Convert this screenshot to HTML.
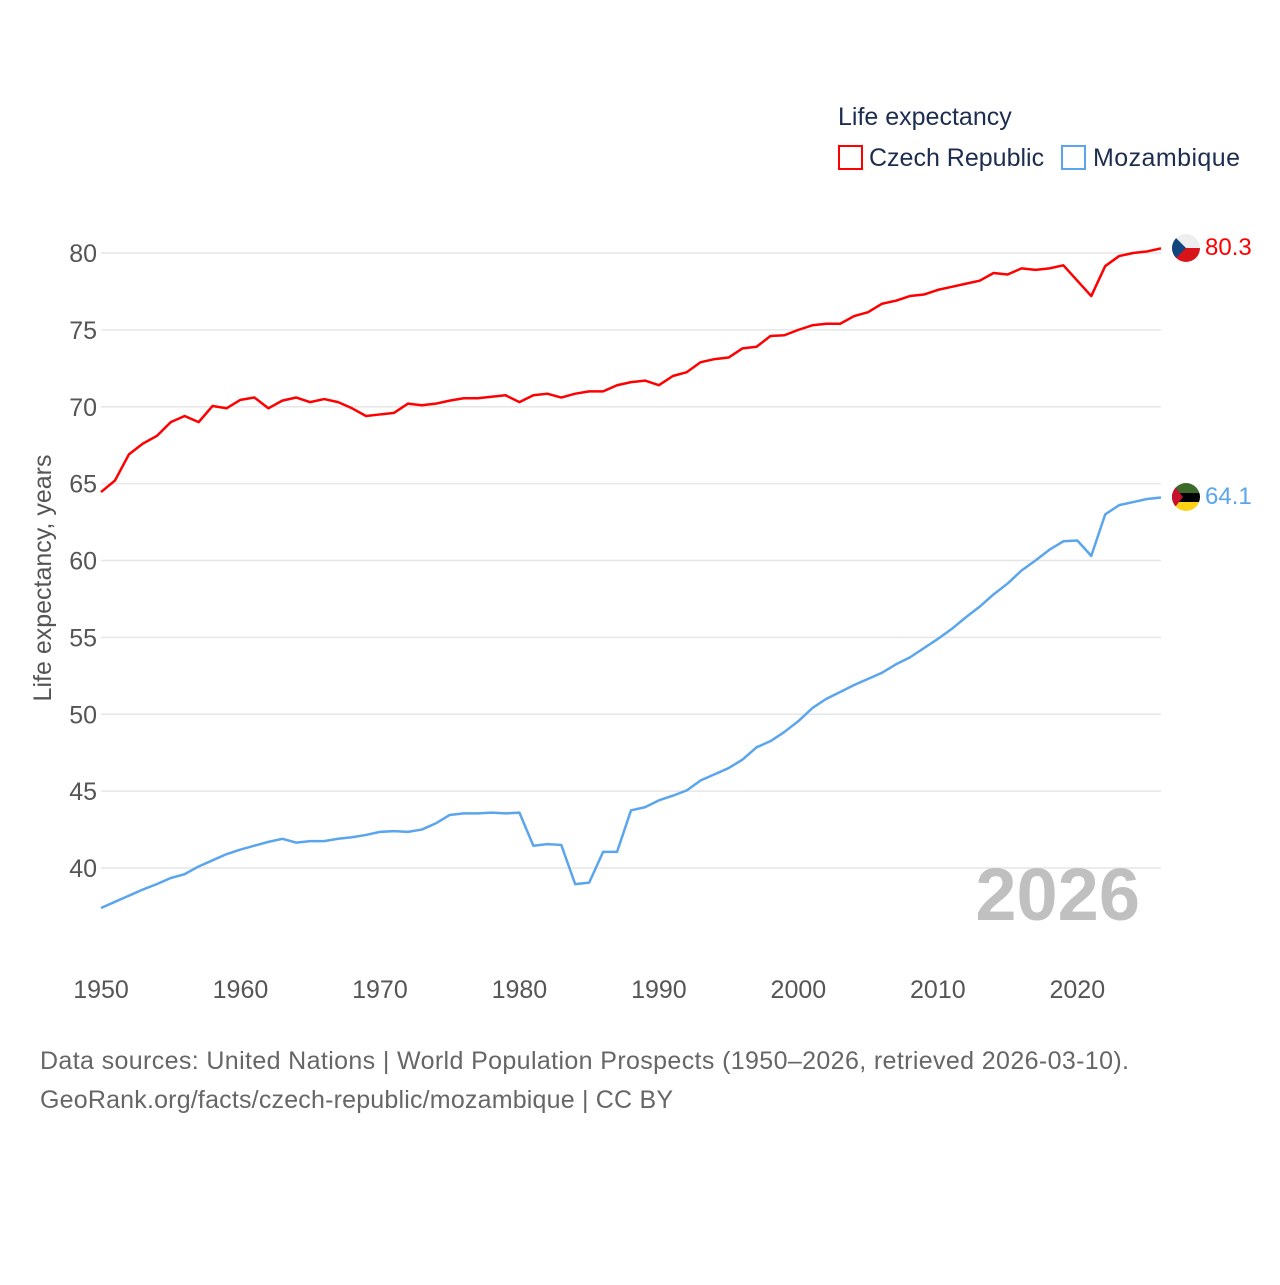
<!DOCTYPE html>
<html><head><meta charset="utf-8"><style>
body{margin:0;background:#fff;}
svg text{font-family:"Liberation Sans",sans-serif;}
</style></head><body>
<svg id="c" width="1280" height="1280" xmlns="http://www.w3.org/2000/svg">
<text x="838" y="125" font-size="25" fill="#1d2d4f">Life expectancy</text>
<g>
<rect x="839" y="146" width="23" height="23" fill="none" stroke="#ff0000" stroke-width="2"/>
<text x="869" y="166" font-size="25" fill="#1d2d4f">Czech Republic</text></g>
<g>
<rect x="1062" y="146" width="23" height="23" fill="none" stroke="#5aa5ee" stroke-width="2"/>
<text x="1093" y="166" font-size="25" fill="#1d2d4f" textLength="147">Mozambique</text></g>
<g id="grid"></g><g id="lines"></g>
<text x="1140" y="920" font-size="74" font-weight="bold" fill="#c0c0c0" text-anchor="end">2026</text>
<text transform="translate(51,578) rotate(-90)" font-size="25" fill="#555" text-anchor="middle">Life expectancy, years</text>
<g>
<clipPath id="cz"><circle cx="1186" cy="248" r="14"/></clipPath>
<g clip-path="url(#cz)"><rect x="1172" y="234" width="28" height="14" fill="#eee"/><rect x="1172" y="248" width="28" height="14" fill="#d7141a"/><polygon points="1172,234 1186,248 1172,262" fill="#11457e"/></g></g>
<text x="1205" y="255" font-size="24" fill="#ff0000">80.3</text>
<g>
<clipPath id="mz"><circle cx="1186" cy="497" r="14"/></clipPath>
<g clip-path="url(#mz)"><rect x="1172" y="483" width="28" height="10" fill="#3d6a2a"/><rect x="1172" y="493" width="28" height="9" fill="#000"/><rect x="1172" y="502" width="28" height="9" fill="#fcd116"/><polygon points="1172,483 1183,497 1172,511" fill="#c8102e"/></g></g>
<text x="1205" y="504" font-size="24" fill="#5aa5ee">64.1</text>
<text x="40" y="1069" font-size="25" fill="#666" textLength="1089">Data sources: United Nations | World Population Prospects (1950–2026, retrieved 2026-03-10).</text>
<text x="40" y="1108" font-size="25" fill="#666" textLength="633">GeoRank.org/facts/czech-republic/mozambique | CC BY</text>
</svg>
<script>
const years=[];for(let y=1950;y<=2026;y++)years.push(y);
const czech=[64.45,65.2,66.9,67.6,68.1,69.0,69.4,69.0,70.05,69.9,70.45,70.6,69.9,70.4,70.6,70.3,70.5,70.3,69.9,69.4,69.5,69.6,70.2,70.1,70.2,70.4,70.55,70.55,70.65,70.75,70.3,70.75,70.85,70.6,70.85,71.0,71.0,71.4,71.6,71.7,71.4,72.0,72.25,72.9,73.1,73.2,73.8,73.9,74.6,74.65,75.0,75.3,75.4,75.4,75.9,76.15,76.7,76.9,77.2,77.3,77.6,77.8,78.0,78.2,78.7,78.6,79.0,78.9,79.0,79.2,78.2,77.2,79.15,79.8,80.0,80.1,80.3];
const mozambique=[37.4,37.8,38.2,38.6,38.95,39.35,39.6,40.1,40.5,40.9,41.2,41.45,41.7,41.9,41.65,41.75,41.75,41.9,42.0,42.15,42.35,42.4,42.35,42.5,42.9,43.45,43.55,43.55,43.6,43.55,43.6,41.45,41.55,41.5,38.95,39.05,41.05,41.05,43.75,43.95,44.4,44.7,45.05,45.7,46.1,46.5,47.05,47.85,48.25,48.85,49.55,50.4,51.0,51.45,51.9,52.3,52.7,53.25,53.7,54.3,54.9,55.55,56.3,57.0,57.8,58.5,59.35,60.0,60.7,61.25,61.3,60.3,63.0,63.6,63.8,64.0,64.1];
const yTicks=[40,45,50,55,60,65,70,75,80];
const xTicks=[1950,1960,1970,1980,1990,2000,2010,2020];
const NS="http://www.w3.org/2000/svg";
const xs=y=>101+(y-1950)*(1161-101)/76;
const ys=v=>868-(v-40)*15.375;
const grid=document.getElementById('grid'),lines=document.getElementById('lines');
function mk(t,a,p){const e=document.createElementNS(NS,t);for(const k in a)e.setAttribute(k,a[k]);p.appendChild(e);return e;}
yTicks.forEach(v=>{
const l=mk('line',{x1:101,x2:1161,y1:ys(v),y2:ys(v),stroke:'#e6e6e6','stroke-width':1.5},grid);


const t=mk('text',{x:97,y:ys(v)+9,'font-size':25,fill:'#555','text-anchor':'end'},grid);t.textContent=v;


});
xTicks.forEach(v=>{
const t=mk('text',{x:xs(v),y:998,'font-size':25,fill:'#555','text-anchor':'middle'},grid);t.textContent=v;


});
function line(d,c,n){
const p=mk('polyline',{points:d.map((v,i)=>xs(years[i])+','+ys(v)).join(' '),fill:'none',stroke:c,'stroke-width':2.5,'stroke-linejoin':'round'},lines);


}
line(czech,'#ff0000','czech-line');
line(mozambique,'#5aa5ee','mozambique-line');
</script>
</body></html>
